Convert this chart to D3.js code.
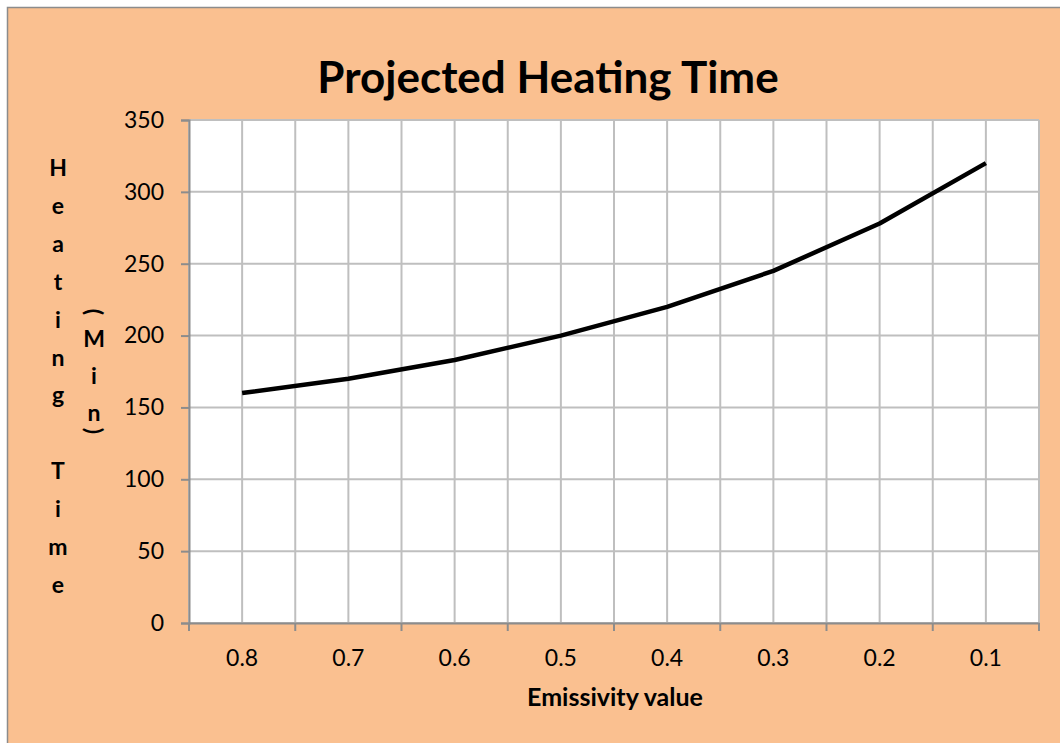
<!DOCTYPE html>
<html>
<head>
  <meta charset="utf-8">
  <title>Projected Heating Time</title>
  <script src="https://cdn.jsdelivr.net/npm/d3@7"></script>
  <style>
    body { margin: 0; background: #fff; }
    text { font-family: Lato, "Open Sans", sans-serif; fill: #000; }
  </style>
</head>
<body>
  <div id="chart"></div>
  <script>
    // data
    const emissivity = ['0.8', '0.7', '0.6', '0.5', '0.4', '0.3', '0.2', '0.1']
    const heatingMin = [160, 170, 183, 200, 220, 245, 278, 320]
    const yTicks = [0, 50, 100, 150, 200, 250, 300, 350]
    const yLabelMain = 'Heating Time'
    const yLabelUnit = '(Min)'

    const width = 1060
    const height = 743
    const plot = { left: 189, right: 1039, top: 120, bottom: 623 }

    const svg = d3.select('#chart').append('svg')
      .attr('width', width)
      .attr('height', height)

    // chart area background
    svg.append('rect')
      .attr('x', 7.5).attr('y', 7.5)
      .attr('width', width).attr('height', height)
      .attr('fill', '#FAC090')
      .attr('stroke', '#8c8c8c')
      .attr('stroke-width', 1.5)

    const x = d3.scaleBand().domain(emissivity).range([plot.left, plot.right]).padding(0)
    const y = d3.scaleLinear().domain([0, 350]).range([plot.bottom, plot.top])

    svg.append('rect')
      .attr('x', plot.left).attr('y', plot.top)
      .attr('width', plot.right - plot.left).attr('height', plot.bottom - plot.top)
      .attr('fill', '#fff')

    // vertical gridlines at band edges and centres
    const vLines = []
    emissivity.forEach(d => {
      vLines.push(x(d))
      vLines.push(x(d) + x.bandwidth() / 2)
    })
    vLines.push(plot.right)
    svg.append('g').selectAll('line')
      .data(vLines)
      .enter().append('line')
      .attr('x1', d => d).attr('x2', d => d)
      .attr('y1', plot.top).attr('y2', plot.bottom)
      .attr('stroke', '#bfbfbf').attr('stroke-width', 2)

    svg.append('g').selectAll('line')
      .data(yTicks)
      .enter().append('line')
      .attr('x1', plot.left).attr('x2', plot.right)
      .attr('y1', d => y(d)).attr('y2', d => y(d))
      .attr('stroke', '#bfbfbf').attr('stroke-width', 2)

    // axes
    const yAxis = d3.axisLeft(y).tickValues(yTicks).tickSize(8).tickPadding(17)
    const gy = svg.append('g')
      .attr('transform', `translate(${plot.left},0)`)
      .call(yAxis)
    gy.select('.domain').attr('stroke', '#8c8c8c').attr('stroke-width', 2)
    gy.selectAll('.tick line').attr('stroke', '#8c8c8c').attr('stroke-width', 2)
    gy.selectAll('.tick text')
      .attr('font-family', 'Lato, sans-serif')
      .attr('font-size', 23)

    const xAxis = d3.axisBottom(x).tickSize(0).tickPadding(27)
    const gx = svg.append('g')
      .attr('transform', `translate(0,${plot.bottom})`)
      .call(xAxis)
    gx.select('.domain').attr('stroke', '#8c8c8c').attr('stroke-width', 2)
    gx.selectAll('.tick text')
      .attr('font-family', 'Lato, sans-serif')
      .attr('font-size', 23)

    // tick marks between categories
    gx.selectAll('.edge')
      .data(emissivity.map(d => x(d)).concat([plot.right]))
      .enter().append('line')
      .attr('x1', d => d).attr('x2', d => d)
      .attr('y1', 0).attr('y2', 8)
      .attr('stroke', '#8c8c8c').attr('stroke-width', 2)

    // the series line
    const line = d3.line()
      .x((d, i) => x(emissivity[i]) + x.bandwidth() / 2)
      .y(d => y(d))
    svg.append('path')
      .datum(heatingMin)
      .attr('d', line)
      .attr('fill', 'none')
      .attr('stroke', '#000')
      .attr('stroke-width', 4.5)
      .attr('stroke-linejoin', 'round')

    // title
    svg.append('text')
      .attr('x', 548).attr('y', 93)
      .attr('text-anchor', 'middle')
      .attr('font-size', 44).attr('font-weight', 'bold')
      .text('Projected Heating Time')

    // x axis title
    svg.append('text')
      .attr('x', 615).attr('y', 706)
      .attr('text-anchor', 'middle')
      .attr('font-size', 25).attr('font-weight', 'bold')
      .text('Emissivity value')

    // stacked y axis title
    svg.append('g').selectAll('text')
      .data(yLabelMain.split(''))
      .enter().append('text')
      .attr('x', 58)
      .attr('y', (d, i) => 176 + i * 37.9)
      .attr('text-anchor', 'middle')
      .attr('font-size', 23).attr('font-weight', 'bold')
      .text(d => d)

    const unitY = [312, 347, 384, 421, 431]
    svg.append('g').selectAll('text')
      .data(yLabelUnit.split(''))
      .enter().append('text')
      .attr('text-anchor', 'middle')
      .attr('font-size', 23).attr('font-weight', 'bold')
      .attr('transform', (d, i) => {
        if (d === '(' || d === ')') return `translate(94,${unitY[i]}) rotate(90)`
        return `translate(94,${unitY[i]})`
      })
      .attr('dy', d => (d === '(' || d === ')') ? '0.35em' : 0)
      .text(d => d)
  </script>
</body>
</html>
